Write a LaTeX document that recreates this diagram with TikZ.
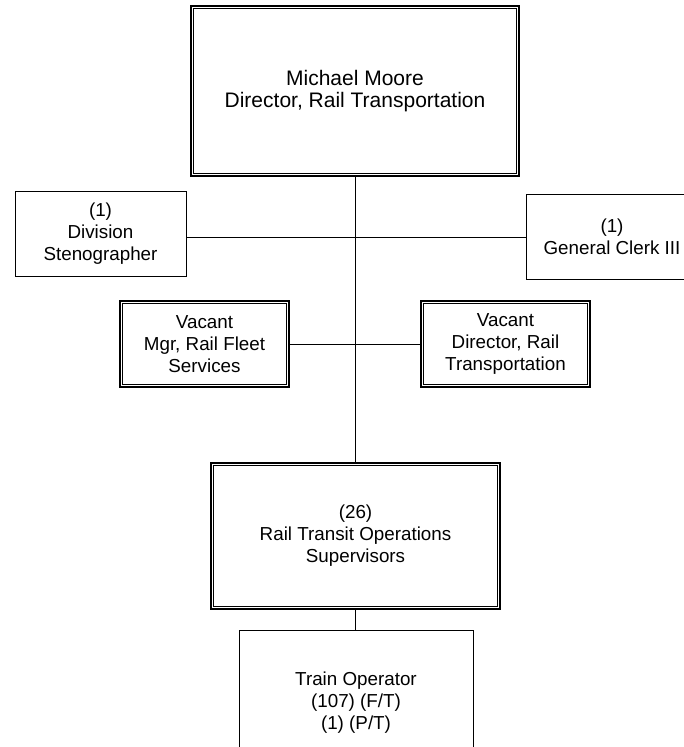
\documentclass[tikz,border=0pt]{standalone}
\usepackage{fontspec}
\setmainfont{Liberation Sans}
\begin{document}
\begin{tikzpicture}[x=1pt,y=-1pt,
  box/.style={draw, line width=1pt, rectangle, align=center, inner sep=0pt,
    font=\fontsize{18.8}{22}\selectfont},
  dbox/.style={box, line width=1.8pt},
  inbox/.style={line width=0.9pt},
  conn/.style={line width=1pt}]
\useasboundingbox (0,0) rectangle (683,747);
% nodes
\node[dbox, minimum width=328pt, minimum height=170pt,
  font=\fontsize{21}{22.5}\selectfont] (top) at (355,91)
  {Michael Moore\\Director, Rail Transportation};
\node[box, minimum width=171pt, minimum height=85pt] (steno) at (100.5,233.5)
  {(1)\\Division\\Stenographer};
\node[box, minimum width=172pt, minimum height=85pt] (gc) at (612,236.5)
  {(1)\\General Clerk III};
\node[dbox, minimum width=169pt, minimum height=86pt] (mgr) at (204.5,344)
  {Vacant\\Mgr, Rail Fleet\\Services};
\node[dbox, minimum width=169pt, minimum height=86pt] (dir) at (505.5,344)
  {Vacant\\Director, Rail\\Transportation};
\node[dbox, minimum width=289pt, minimum height=146pt] (rtos) at (355.5,536)
  {(26)\\Rail Transit Operations\\Supervisors};
\node[box, minimum width=234pt, minimum height=146pt] (train) at (356,703)
  {Train Operator\\(107) (F/T)\\(1) (P/T)};
% inner lines of double borders
\foreach \n in {top,mgr,dir,rtos}{
  \draw[inbox] ([shift={(3.5pt,-3.5pt)}]\n.north west) rectangle ([shift={(-3.5pt,3.5pt)}]\n.south east);
}
% connectors
\coordinate (j1) at (356,237);
\draw[conn] (top.south) -- (top.south |- rtos.north);
\draw[conn] (steno.east |- j1) -- (gc.west |- j1);
\draw[conn] (mgr.east) -- (dir.west);
\draw[conn] (rtos.south) -- (rtos.south |- train.north);
\end{tikzpicture}
\end{document}
